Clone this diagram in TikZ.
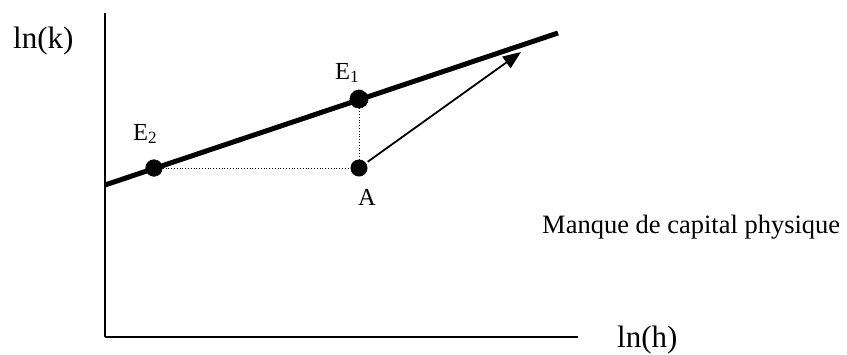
\documentclass[tikz,border=0pt]{standalone}
\usepackage{fontspec}
\usepackage{graphicx}
\setmainfont{Liberation Serif}
\usetikzlibrary{arrows.meta}
\begin{document}
\begin{tikzpicture}[x=1pt,y=-1pt]
\tikzstyle{dot}=[circle,fill=black,minimum size=17pt,inner sep=0pt]
\tikzstyle{axis}=[draw,line width=2.5pt]
\tikzstyle{frontier}=[draw,line width=5pt]
\tikzstyle{proj}=[draw,dotted,line width=0.8pt]
\tikzstyle{move}=[draw,line width=1.8pt,shorten <=2pt,-{Triangle[length=18pt,width=14pt]}]
\tikzstyle{lbl}=[inner sep=0pt,anchor=base west,font=\fontsize{24.5}{29}\selectfont]
\tikzstyle{axislbl}=[lbl,font=\fontsize{31}{37}\selectfont]

\useasboundingbox (0,0) rectangle (847,354);

\coordinate (O) at (105,337);
\coordinate (ytop) at (105,13);
\coordinate (xend) at (578,337);
\coordinate (f0) at (105,185);
\coordinate (f1) at (558,33);
\coordinate (tip) at (521,52);

% axes
\path (O) edge[axis] (ytop);
\path (O) edge[axis] (xend);
\node[axislbl] (lnk) at (13,48) {ln(k)};
\node[axislbl] (lnh) at (617,347) {ln(h)};

% dotted projections
\node[dot] (E2) at (154,168) {};
\node[dot,draw=black,densely dotted,line width=0.8pt,minimum size=18pt] (E1) at (359,99) {};
\node[dot] (A) at (359,168) {};
\path (E2) edge[proj] (A);
\path (E1) edge[proj] (A);

% frontier
\path (f0) edge[frontier] (f1);
\node[dot] at (E2) {};
\node[dot,draw=black,densely dotted,line width=0.8pt,minimum size=18pt] at (E1) {};

\path (A) edge[move] (tip);

\node[lbl] (lE2) at (133,140) {E\textsubscript{2}};
\node[lbl] (lE1) at (335,79) {E\textsubscript{1}};
\node[lbl] (lA) at (358,205) {A};
\node[lbl,font=\fontsize{27}{32}\selectfont] (manque) at (542,233) {\resizebox{298pt}{!}{Manque de capital physique}};
\end{tikzpicture}
\end{document}
